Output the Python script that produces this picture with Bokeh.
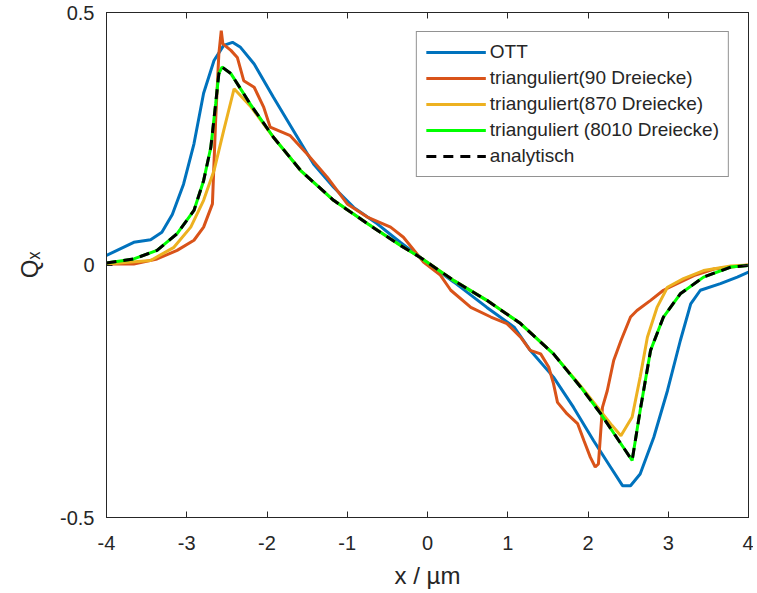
from bokeh.plotting import figure
from bokeh.models import Range1d, LinearAxis, FixedTicker, Legend, LegendItem, CustomJSTickFormatter
from bokeh.embed import file_html
from bokeh.resources import INLINE

# ---- data ----
ott_x = [-4.0, -3.66, -3.45, -3.31, -3.18, -3.04, -2.91, -2.79, -2.66, -2.54, -2.43, -2.33, -2.16,
         -1.92, -1.67, -1.42, -1.17, -0.92, -0.63, -0.34, -0.09, 0.33, 0.74, 1.08, 1.28, 1.57, 1.82,
         2.07, 2.28, 2.43, 2.53, 2.65, 2.82, 2.99, 3.15, 3.28, 3.40, 3.65, 3.86, 4.0]
ott_y = [0.019, 0.045, 0.050, 0.065, 0.10, 0.16, 0.24, 0.34, 0.405, 0.435, 0.441, 0.431, 0.398,
         0.332, 0.266, 0.200, 0.154, 0.114, 0.082, 0.045, 0.015, -0.034, -0.084, -0.123, -0.169,
         -0.222, -0.282, -0.348, -0.400, -0.437, -0.437, -0.414, -0.341, -0.249, -0.150, -0.077,
         -0.050, -0.037, -0.024, -0.014]

tri90_x = [-4.0, -3.66, -3.37, -3.12, -2.91, -2.79, -2.68, -2.64, -2.60, -2.57, -2.55, -2.45, -2.37,
           -2.29, -2.16, -2.04, -1.96, -1.71, -1.50, -1.25, -1.00, -0.75, -0.46, -0.30, -0.05,
           0.16, 0.29, 0.54, 0.79, 0.99, 1.16, 1.28, 1.41, 1.51, 1.57, 1.62, 1.74, 1.87, 1.95,
           2.03, 2.09, 2.13, 2.18, 2.24, 2.32, 2.41, 2.53, 2.61, 2.78, 2.94, 3.11, 3.32, 3.57, 4.0]
tri90_y = [0.002, 0.002, 0.012, 0.029, 0.049, 0.075, 0.121, 0.286, 0.418, 0.464, 0.438, 0.425, 0.411,
           0.365, 0.352, 0.312, 0.273, 0.256, 0.220, 0.174, 0.121, 0.095, 0.075, 0.055, 0.006,
           -0.020, -0.050, -0.084, -0.103, -0.116, -0.143, -0.169, -0.176, -0.202, -0.235, -0.272,
           -0.295, -0.314, -0.348, -0.381, -0.400, -0.394, -0.282, -0.249, -0.189, -0.150, -0.103,
           -0.090, -0.070, -0.050, -0.037, -0.021, -0.008, 0.0]

tri870_x = [-4.0, -3.45, -3.16, -2.95, -2.79, -2.66, -2.54, -2.41, -2.21, -1.92, -1.58, -1.17, -0.75,
            -0.34, -0.09, 0.33, 0.74, 1.16, 1.57, 1.91, 2.16, 2.30, 2.41, 2.55, 2.65, 2.74, 2.86,
            2.99, 3.19, 3.44, 3.78, 4.0]
tri870_y = [0.002, 0.009, 0.035, 0.075, 0.128, 0.187, 0.266, 0.349, 0.315, 0.253, 0.187, 0.128, 0.082,
            0.039, 0.015, -0.031, -0.070, -0.116, -0.176, -0.240, -0.290, -0.318, -0.338, -0.301,
            -0.222, -0.143, -0.084, -0.044, -0.027, -0.011, -0.002, 0.0]

analytic_x = [-4.0, -3.66, -3.37, -3.12, -2.91, -2.79, -2.70, -2.64, -2.60, -2.56, -2.45, -2.21, -1.92,
              -1.58, -1.17, -0.75, -0.34, -0.09, 0.33, 0.74, 1.16, 1.57, 1.91, 2.16, 2.41, 2.55, 2.65,
              2.78, 2.94, 3.15, 3.44, 3.78, 4.0]
analytic_y = [0.004, 0.012, 0.029, 0.062, 0.108, 0.167, 0.233, 0.319, 0.379, 0.392, 0.379, 0.319, 0.253,
              0.187, 0.128, 0.082, 0.039, 0.015, -0.031, -0.070, -0.116, -0.176, -0.242, -0.295, -0.354,
              -0.387, -0.288, -0.169, -0.103, -0.057, -0.024, -0.004, -0.001]

tri8010_x = list(analytic_x)
tri8010_y = list(analytic_y)

x_ticks = [-4, -3, -2, -1, 0, 1, 2, 3, 4]
x_tick_labels = ["-4", "-3", "-2", "-1", "0", "1", "2", "3", "4"]
y_ticks = [-0.5, 0, 0.5]
y_tick_labels = ["-0.5", "0", "0.5"]

# ---- figure ----
FONT = "Liberation Sans"
TXT = "#262626"

p = figure(width=753, height=593, output_backend="svg", toolbar_location=None,
           x_range=Range1d(-4, 4), y_range=Range1d(-0.5, 0.5),
           min_border_left=106, min_border_right=5, min_border_top=12, min_border_bottom=76)
p.grid.visible = False
p.outline_line_color = TXT
p.outline_line_width = 1
p.background_fill_color = "white"
p.border_fill_color = "white"

for ax in (p.xaxis[0], p.yaxis[0]):
    ax.major_label_text_font = FONT
    ax.major_label_text_font_size = "20px"
    ax.major_label_text_color = TXT
    ax.axis_line_color = TXT
    ax.major_tick_line_color = TXT
    ax.major_tick_in = 6
    ax.major_tick_out = 0
    ax.minor_tick_line_color = None
    ax.axis_label_text_font = FONT
    ax.axis_label_text_font_size = "24px"
    ax.axis_label_text_font_style = "normal"
    ax.axis_label_text_color = TXT

p.xaxis[0].ticker = FixedTicker(ticks=x_ticks)
p.yaxis[0].ticker = FixedTicker(ticks=y_ticks)
p.xaxis[0].major_label_overrides = {t: s for t, s in zip(x_ticks, x_tick_labels)}
p.yaxis[0].major_label_overrides = {t: s for t, s in zip(y_ticks, y_tick_labels)}
p.xaxis[0].axis_label = "x / µm"
p.yaxis[0].axis_label = "Qₓ"
p.xaxis[0].major_label_standoff = 18
p.yaxis[0].major_label_standoff = 12
p.xaxis[0].axis_label_standoff = 9
p.yaxis[0].axis_label_standoff = 14

blank = CustomJSTickFormatter(code="return '';")
top = LinearAxis(ticker=FixedTicker(ticks=x_ticks), formatter=blank,
                 axis_line_color=TXT, major_tick_line_color=TXT, major_tick_in=6,
                 major_tick_out=0, minor_tick_line_color=None, major_label_standoff=0)
right = LinearAxis(ticker=FixedTicker(ticks=y_ticks), formatter=blank,
                   axis_line_color=TXT, major_tick_line_color=TXT, major_tick_in=6,
                   major_tick_out=0, minor_tick_line_color=None, major_label_standoff=0)
p.add_layout(top, "above")
p.add_layout(right, "right")

r_ott = p.line(ott_x, ott_y, line_color="#0072BD", line_width=3)
r_90 = p.line(tri90_x, tri90_y, line_color="#D95319", line_width=3)
r_870 = p.line(tri870_x, tri870_y, line_color="#EDB120", line_width=3)
r_8010 = p.line(tri8010_x, tri8010_y, line_color="#00FF00", line_width=3)
r_an = p.line(analytic_x, analytic_y, line_color="black", line_width=3, line_dash="10 7")

legend = Legend(items=[
    LegendItem(label="OTT", renderers=[r_ott]),
    LegendItem(label="trianguliert(90 Dreiecke)", renderers=[r_90]),
    LegendItem(label="trianguliert(870 Dreiecke)", renderers=[r_870]),
    LegendItem(label="trianguliert (8010 Dreiecke)", renderers=[r_8010]),
    LegendItem(label="analytisch", renderers=[r_an]),
], location="top_right")
legend.label_text_font = FONT
legend.label_text_font_size = "19px"
legend.label_text_color = TXT
legend.label_height = 20
legend.glyph_width = 60
legend.glyph_height = 20
legend.label_standoff = 4
legend.spacing = 4
legend.padding = 9
legend.margin = 19
legend.border_line_color = TXT
legend.border_line_width = 1
legend.background_fill_alpha = 1
p.add_layout(legend, "center")

open("out.html", "w").write(file_html(p, INLINE))
